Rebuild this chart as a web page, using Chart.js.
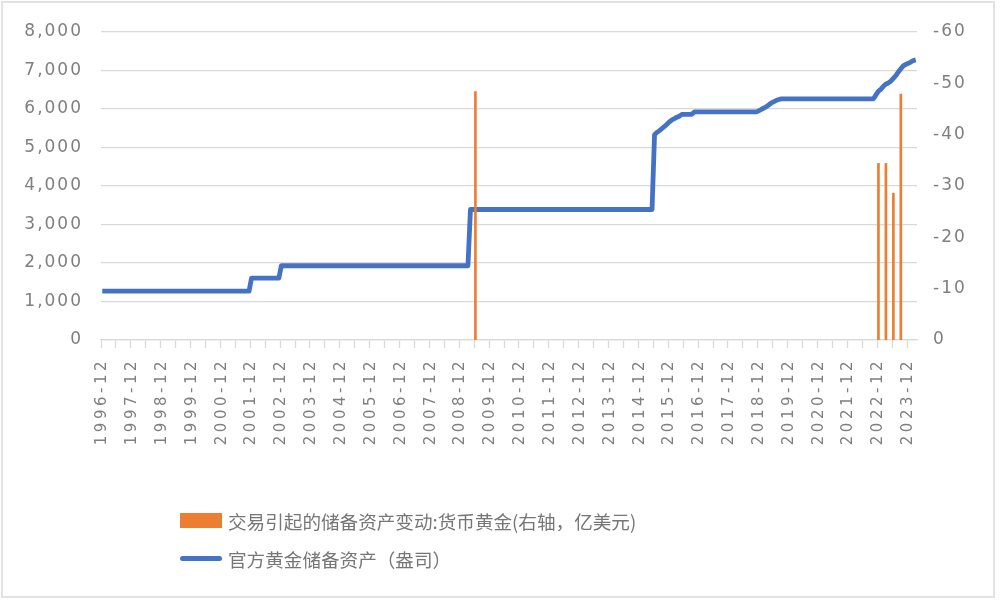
<!DOCTYPE html>
<html>
<head>
<meta charset="utf-8">
<script src="https://cdn.jsdelivr.net/npm/chart.js@4.4.1/dist/chart.umd.min.js"></script>
<style>
  html, body { margin: 0; padding: 0; background: #fff; }
  #wrap { position: relative; width: 1000px; height: 602px; }
  #frame { position: absolute; left: 1px; top: 1px; width: 994px; height: 597px; box-sizing: border-box;
           border: 2px solid #e2e2e2; pointer-events: none; }
  #legend { position: absolute; left: 180px; top: 505px; font-family: "Noto Sans CJK SC", sans-serif;
            font-size: 18.6px; color: #767676; }
  .item { display: flex; align-items: center; height: 30px; margin-bottom: 8px; white-space: nowrap; }
  .swatch { width: 42px; height: 15px; margin-right: 6px; }
  .stroke { width: 42px; height: 5px; margin-right: 6px; border-radius: 2.5px; }
</style>
</head>
<body>
<div id="wrap">
  <canvas id="gold-chart"></canvas>
  <div id="legend"></div>
  <div id="frame"></div>
</div>
<script>
// 官方黄金储备资产, monthly from 1996-12 to 2024-03 (left axis)
const goldReserve = [
  1267,                                                                   // 1996-12
  1267, 1267, 1267, 1267, 1267, 1267, 1267, 1267, 1267, 1267, 1267, 1267, // 1997
  1267, 1267, 1267, 1267, 1267, 1267, 1267, 1267, 1267, 1267, 1267, 1267, // 1998
  1267, 1267, 1267, 1267, 1267, 1267, 1267, 1267, 1267, 1267, 1267, 1267, // 1999
  1267, 1267, 1267, 1267, 1267, 1267, 1267, 1267, 1267, 1267, 1267, 1267, // 2000
  1267, 1267, 1267, 1267, 1267, 1267, 1267, 1267, 1267, 1267, 1267, 1608, // 2001
  1608, 1608, 1608, 1608, 1608, 1608, 1608, 1608, 1608, 1608, 1608, 1929, // 2002
  1929, 1929, 1929, 1929, 1929, 1929, 1929, 1929, 1929, 1929, 1929, 1929, // 2003
  1929, 1929, 1929, 1929, 1929, 1929, 1929, 1929, 1929, 1929, 1929, 1929, // 2004
  1929, 1929, 1929, 1929, 1929, 1929, 1929, 1929, 1929, 1929, 1929, 1929, // 2005
  1929, 1929, 1929, 1929, 1929, 1929, 1929, 1929, 1929, 1929, 1929, 1929, // 2006
  1929, 1929, 1929, 1929, 1929, 1929, 1929, 1929, 1929, 1929, 1929, 1929, // 2007
  1929, 1929, 1929, 1929, 1929, 1929, 1929, 1929, 1929, 1929, 1929, 1929, // 2008
  1929, 1929, 1929, 3389, 3389, 3389, 3389, 3389, 3389, 3389, 3389, 3389, // 2009
  3389, 3389, 3389, 3389, 3389, 3389, 3389, 3389, 3389, 3389, 3389, 3389, // 2010
  3389, 3389, 3389, 3389, 3389, 3389, 3389, 3389, 3389, 3389, 3389, 3389, // 2011
  3389, 3389, 3389, 3389, 3389, 3389, 3389, 3389, 3389, 3389, 3389, 3389, // 2012
  3389, 3389, 3389, 3389, 3389, 3389, 3389, 3389, 3389, 3389, 3389, 3389, // 2013
  3389, 3389, 3389, 3389, 3389, 3389, 3389, 3389, 3389, 3389, 3389, 3389, // 2014
  3389, 3389, 3389, 3389, 3389, 5332, 5393, 5439, 5493, 5546, 5605, 5666, // 2015
  5718, 5751, 5788, 5814, 5862, 5862, 5862, 5862, 5862, 5924, 5924, 5924, // 2016
  5924, 5924, 5924, 5924, 5924, 5924, 5924, 5924, 5924, 5924, 5924, 5924, // 2017
  5924, 5924, 5924, 5924, 5924, 5924, 5924, 5924, 5924, 5924, 5924, 5956, // 2018
  5994, 6026, 6062, 6111, 6161, 6194, 6226, 6245, 6264, 6264, 6264, 6264, // 2019
  6264, 6264, 6264, 6264, 6264, 6264, 6264, 6264, 6264, 6264, 6264, 6264, // 2020
  6264, 6264, 6264, 6264, 6264, 6264, 6264, 6264, 6264, 6264, 6264, 6264, // 2021
  6264, 6264, 6264, 6264, 6264, 6264, 6264, 6264, 6264, 6264, 6367, 6464, // 2022
  6512, 6592, 6650, 6676, 6727, 6795, 6869, 6962, 7046, 7120, 7158, 7187, // 2023
  7219, 7258, 7274                                                        // 2024
];

// 交易引起的储备资产变动:货币黄金 (right axis, 亿美元), quarterly
const flowMonths = ['2009-06', '2022-12', '2023-03', '2023-06', '2023-09'];
const goldFlow = [48.4, 34.4, 34.4, 28.6, 47.9];

const seriesNames = ['交易引起的储备资产变动:货币黄金(右轴，亿美元)', '官方黄金储备资产（盎司）'];
const seriesColors = ['#ED7D31', '#4472C4'];

// month categories, first one is 1996-12
const months = [];
for (let y = 1996, m = 12; months.length < goldReserve.length; m++) {
  if (m > 12) { m = 1; y++; }
  months.push(y + '-' + String(m).padStart(2, '0'));
}

const tickColor = '#7f7f7f';
const gridColor = '#d9d9d9';
const tickSpacing = { x: '3.5px', y: '2px', y1: '2px' };

// the source font has wide spacing on the axis numbers
const spacingPlugin = {
  id: 'tickSpacing',
  afterLayout(chart) {
    Object.values(chart.scales).forEach(s => {
      if (s._spaced) return;
      const draw = s.drawLabels.bind(s);
      s.drawLabels = function (area) {
        this.ctx.save();
        this.ctx.letterSpacing = tickSpacing[this.id] || '0px';
        draw(area);
        this.ctx.restore();
      };
      s._spaced = true;
    });
  }
};

const ctx = document.getElementById('gold-chart');
new Chart(ctx, {
  type: 'bar',
  data: {
    labels: months,
    datasets: [
      {
        type: 'bar',
        label: seriesNames[0],
        data: flowMonths.map((m, i) => ({ x: m, y: goldFlow[i] })),
        backgroundColor: seriesColors[0],
        barThickness: 2,
        yAxisID: 'y1',
        order: 0
      },
      {
        type: 'line',
        label: seriesNames[1],
        data: goldReserve,
        borderColor: seriesColors[1],
        backgroundColor: seriesColors[1],
        borderWidth: 4.8,
        borderJoinStyle: 'round',
        pointRadius: 0,
        tension: 0,
        yAxisID: 'y',
        order: 1
      }
    ]
  },
  options: {
    responsive: true,
    maintainAspectRatio: false,
    animation: false,
    layout: { padding: { top: 32, left: 0, right: 0, bottom: 0 } },
    plugins: {
      legend: { display: false },
      tooltip: { enabled: false }
    },
    scales: {
      x: {
        offset: true,
        grid: {
          offset: true,
          drawOnChartArea: false,
          tickLength: 8,
          tickWidth: 1.3,
          tickColor: c => (c.index % 6 === 0 ? gridColor : 'rgba(0,0,0,0)')
        },
        border: { color: gridColor, width: 1.3 },
        ticks: {
          autoSkip: false,
          maxRotation: 90,
          minRotation: 90,
          padding: 10,
          color: tickColor,
          font: { family: 'DejaVu Sans', size: 15 },
          callback: (v, i) => (i % 12 === 0 ? months[i] : '')
        },
        afterFit: s => { s.height = 262; }
      },
      y: {
        position: 'left',
        min: 0,
        max: 8000,
        grid: { color: gridColor, lineWidth: 1.3, drawTicks: false },
        border: { display: false },
        ticks: {
          stepSize: 1000,
          padding: 18,
          color: tickColor,
          font: { family: 'DejaVu Sans', size: 17 },
          callback: v => v.toLocaleString('en-US')
        },
        afterFit: s => { s.width = 101; }
      },
      y1: {
        position: 'right',
        min: 0,
        max: 60,
        grid: { display: false, drawTicks: false },
        border: { display: false },
        ticks: {
          stepSize: 10,
          padding: 16,
          color: tickColor,
          font: { family: 'DejaVu Sans', size: 17 },
          callback: v => (v === 0 ? '0' : '-' + v)
        },
        afterFit: s => { s.width = 83; }
      }
    }
  },
  plugins: [spacingPlugin]
});

// legend stacked in two rows under the axis labels
const legend = document.getElementById('legend');
seriesNames.forEach((name, i) => {
  const row = document.createElement('div');
  row.className = 'item';
  const mark = document.createElement('span');
  mark.className = i === 0 ? 'swatch' : 'stroke';
  mark.style.background = seriesColors[i];
  const text = document.createElement('span');
  text.textContent = name;
  row.appendChild(mark);
  row.appendChild(text);
  legend.appendChild(row);
});
</script>
</body>
</html>
